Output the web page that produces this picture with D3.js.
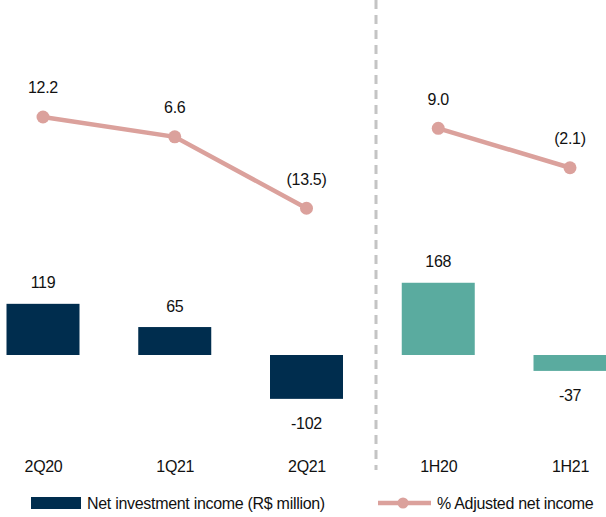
<!DOCTYPE html>
<html>
<head>
<meta charset="utf-8">
<script src="https://cdn.jsdelivr.net/npm/d3@7"></script>
<style>
  body { margin: 0; background: #fff; }
  text { font-family: "Liberation Sans", Arial, sans-serif; fill: #111; letter-spacing: -0.3px; }
</style>
</head>
<body>
<div id="chart"></div>
<script>
// data
const categories = ["2Q20", "1Q21", "2Q21", "1H20", "1H21"];
const investmentIncome = [119, 65, -102, 168, -37];
const adjustedPct = [12.2, 6.6, -13.5, 9.0, -2.1];
const groups = [["2Q20", "1Q21", "2Q21"], ["1H20", "1H21"]];
const legendLabels = ["Net investment income (R$ million)", "% Adjusted net income"];

const width = 606, height = 517;
const navy = "#002d4e", teal = "#5aab9f", pink = "#dba19c";
const fs = 16;

const svg = d3.select("#chart")
    .append("svg")
    .attr("width", width)
    .attr("height", height);

// scales
const x = d3.scalePoint()
    .domain(categories)
    .range([43, 570]);
const barW = 73;

const yBar = d3.scaleLinear()
    .domain([0, 100])
    .range([355, 312]);

const yLine = d3.scaleLinear()
    .domain([0, 10])
    .range([160.3, 124.8]);

const fmtPct = v => v < 0 ? "(" + Math.abs(v).toFixed(1) + ")" : v.toFixed(1);

// dashed separator
svg.append("line")
    .attr("x1", 376).attr("x2", 376)
    .attr("y1", 0).attr("y2", 470)
    .attr("stroke", "#c4c4c4")
    .attr("stroke-width", 3)
    .attr("stroke-dasharray", "9,6");

// bars
const bars = categories.map((c, i) => ({ cat: c, v: investmentIncome[i], half: i > 2 }));
svg.selectAll("rect.bar")
    .data(bars)
    .join("rect")
    .attr("class", "bar")
    .attr("x", d => x(d.cat) - barW / 2)
    .attr("width", barW)
    .attr("y", d => Math.min(yBar(0), yBar(d.v)))
    .attr("height", d => Math.abs(yBar(d.v) - yBar(0)))
    .attr("fill", d => d.half ? teal : navy);

svg.selectAll("text.barlab")
    .data(bars)
    .join("text")
    .attr("class", "barlab")
    .attr("x", d => x(d.cat))
    .attr("y", d => d.v >= 0 ? yBar(d.v) - 21 : yBar(d.v) + 25)
    .attr("text-anchor", "middle")
    .attr("dominant-baseline", "central")
    .attr("font-size", fs)
    .text(d => d.v);

// line
const pts = categories.map((c, i) => ({ cat: c, v: adjustedPct[i] }));
const line = d3.line()
    .x(d => x(d.cat))
    .y(d => yLine(d.v));

groups.forEach(g => {
    svg.append("path")
        .datum(pts.filter(p => g.includes(p.cat)))
        .attr("fill", "none")
        .attr("stroke", pink)
        .attr("stroke-width", 4.5)
        .attr("d", line);
});

svg.selectAll("circle.pt")
    .data(pts)
    .join("circle")
    .attr("class", "pt")
    .attr("cx", d => x(d.cat))
    .attr("cy", d => yLine(d.v))
    .attr("r", 6.5)
    .attr("fill", pink);

svg.selectAll("text.ptlab")
    .data(pts)
    .join("text")
    .attr("class", "ptlab")
    .attr("x", d => x(d.cat))
    .attr("y", d => yLine(d.v) - 29)
    .attr("text-anchor", "middle")
    .attr("dominant-baseline", "central")
    .attr("font-size", fs)
    .text(d => fmtPct(d.v));

// category labels
svg.append("g")
    .attr("transform", "translate(0,467)")
    .call(d3.axisBottom(x).tickSize(0).tickPadding(0))
    .call(g => g.select(".domain").remove())
    .call(g => g.selectAll("text")
        .attr("font-size", fs)
        .attr("font-family", "Liberation Sans, Arial, sans-serif")
        .attr("fill", "#111")
        .attr("dy", "0.32em")
        .attr("y", 0));

// legend
const leg = svg.append("g").attr("transform", "translate(0,503)");
leg.append("rect")
    .attr("x", 31).attr("y", -6)
    .attr("width", 50).attr("height", 12)
    .attr("fill", navy);
leg.append("text")
    .attr("x", 87).attr("y", 0)
    .attr("dominant-baseline", "central")
    .attr("font-size", fs)
    .text(legendLabels[0]);
leg.append("line")
    .attr("x1", 378).attr("x2", 431)
    .attr("y1", 0).attr("y2", 0)
    .attr("stroke", pink)
    .attr("stroke-width", 4.5);
leg.append("circle")
    .attr("cx", 403).attr("cy", 0)
    .attr("r", 5.5)
    .attr("fill", pink);
leg.append("text")
    .attr("x", 437).attr("y", 0)
    .attr("dominant-baseline", "central")
    .attr("font-size", fs)
    .text(legendLabels[1]);
</script>
</body>
</html>
